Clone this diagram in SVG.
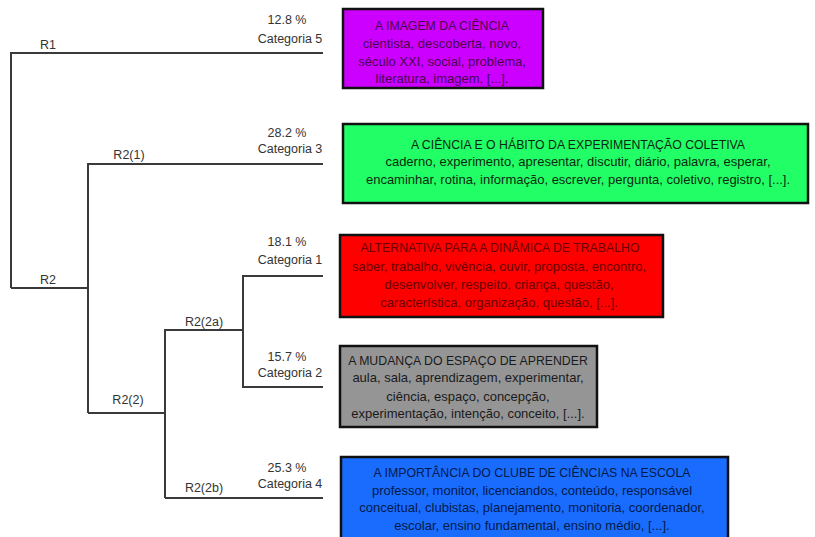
<svg xmlns="http://www.w3.org/2000/svg" width="815" height="537" viewBox="0 0 815 537">
<style>
text{font-family:"Liberation Sans",Arial,sans-serif;font-size:13px;text-anchor:middle}
.t{font-size:12.3px}
.lbl text{font-size:12.5px;fill:#333}
.edge{stroke:#3a3a3a;stroke-width:2;fill:none}
.box{stroke:#111;stroke-width:2.5}
</style>
<rect width="815" height="537" fill="#fff"/>
<g id="connectors">
<path class="edge" d="M11,288 V53 H323"/>
<path class="edge" d="M11,288 H88"/>
<path class="edge" d="M88,413 V164 H323"/>
<path class="edge" d="M88,413 H165"/>
<path class="edge" d="M165,498 V330 H243"/>
<path class="edge" d="M165,498 H323"/>
<path class="edge" d="M323,276 H243 V387 H323"/>
</g>
<g id="branch-labels" class="lbl">
<text x="48" y="49">R1</text>
<text x="48" y="284">R2</text>
<text x="129" y="159">R2(1)</text>
<text x="128" y="404">R2(2)</text>
<text x="204" y="326">R2(2a)</text>
<text x="204" y="492">R2(2b)</text>
</g>
<g id="leaf-labels" class="lbl">
<text x="287" y="24">12.8 %</text><text x="290" y="43">Categoria 5</text>
<text x="287" y="137">28.2 %</text><text x="290" y="153">Categoria 3</text>
<text x="287" y="246">18.1 %</text><text x="290" y="264">Categoria 1</text>
<text x="287" y="361">15.7 %</text><text x="290" y="377">Categoria 2</text>
<text x="287" y="472">25.3 %</text><text x="290" y="488">Categoria 4</text>
</g>
<g id="cat5">
<rect class="box" x="343" y="9" width="200" height="79" fill="#cc00ff"/>
<g fill="#4a0050">
<text class="t" x="442" y="30">A IMAGEM DA CIÊNCIA</text>
<text x="442" y="48">cientista, descoberta, novo,</text>
<text x="442" y="66">século XXI,  social, problema,</text>
<text x="442" y="83">literatura, imagem, [...].</text>
</g>
</g>
<g id="cat3">
<rect class="box" x="343" y="124" width="465" height="79" fill="#22ff66"/>
<g fill="#0a2a10">
<text class="t" x="578" y="149">A CIÊNCIA E O HÁBITO DA EXPERIMENTAÇÃO COLETIVA</text>
<text x="578" y="166">caderno, experimento,  apresentar, discutir, diário, palavra, esperar,</text>
<text x="578" y="184">encaminhar, rotina,  informação, escrever, pergunta, coletivo, registro, [...].</text>
</g>
</g>
<g id="cat1">
<rect class="box" x="340" y="235" width="323" height="82" fill="#ff0000"/>
<g fill="#6a0000">
<text class="t" x="500" y="252">ALTERNATIVA PARA A DINÂMICA DE TRABALHO</text>
<text x="499" y="271">saber, trabalho, vivência, ouvir, proposta, encontro,</text>
<text x="499" y="289">desenvolver, respeito, criança, questão,</text>
<text x="499" y="307">característica, organização, questão, [...].</text>
</g>
</g>
<g id="cat2">
<rect class="box" x="340" y="346" width="257" height="81" fill="#959595"/>
<g fill="#1a1a1a">
<text class="t" x="468" y="365">A MUDANÇA DO ESPAÇO DE APRENDER</text>
<text x="468" y="382">aula, sala, aprendizagem, experimentar,</text>
<text x="468" y="401">ciência, espaço, concepção,</text>
<text x="468" y="418">experimentação, intenção, conceito, [...].</text>
</g>
</g>
<g id="cat4">
<rect class="box" x="341" y="457" width="387" height="82" fill="#1a6cff"/>
<g fill="#001a4a">
<text class="t" x="532" y="477">A IMPORTÂNCIA DO CLUBE DE CIÊNCIAS NA ESCOLA</text>
<text x="532" y="495">professor, monitor,  licenciandos, conteúdo, responsável</text>
<text x="532" y="512">conceitual, clubistas, planejamento, monitoria,  coordenador,</text>
<text x="532" y="530">escolar, ensino fundamental, ensino médio, [...].</text>
</g>
</g>
</svg>
